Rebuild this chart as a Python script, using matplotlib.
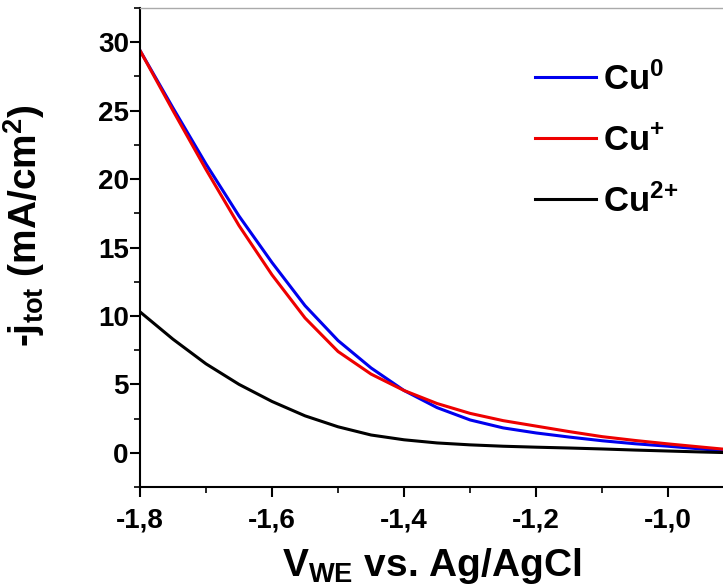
import numpy as np
import matplotlib.pyplot as plt
from matplotlib.ticker import MultipleLocator, FuncFormatter

# potential vs Ag/AgCl (V)
v_we = [-1.80, -1.75, -1.70, -1.65, -1.60, -1.55, -1.50, -1.45, -1.40,
        -1.35, -1.30, -1.25, -1.20, -1.15, -1.10, -1.05, -1.00, -0.95, -0.917]
# -j_tot (mA/cm2)
j_cu0 = [29.4, 25.2, 21.1, 17.3, 13.9, 10.75, 8.2, 6.2, 4.55,
         3.3, 2.4, 1.82, 1.45, 1.15, 0.88, 0.66, 0.48, 0.28, 0.15]
j_cu1 = [29.4, 25.0, 20.7, 16.6, 13.0, 9.85, 7.4, 5.75, 4.55,
         3.6, 2.88, 2.35, 1.95, 1.55, 1.18, 0.9, 0.65, 0.42, 0.27]
j_cu2 = [10.3, 8.3, 6.5, 5.0, 3.75, 2.7, 1.9, 1.3, 0.95,
         0.72, 0.58, 0.48, 0.41, 0.35, 0.28, 0.2, 0.13, 0.06, 0.02]

plt.rcParams['font.family'] = ['Liberation Sans', 'DejaVu Sans']
plt.rcParams['font.weight'] = 'bold'
plt.rcParams['mathtext.fontset'] = 'custom'
plt.rcParams['mathtext.rm'] = 'Liberation Sans:bold'
plt.rcParams['mathtext.bf'] = 'Liberation Sans:bold'
plt.rcParams['mathtext.it'] = 'Liberation Sans:bold'

fig = plt.figure(figsize=(7.23, 5.85), dpi=100)
ax = fig.add_axes([0.1936, 0.1675, 0.8064, 0.8188])

ax.plot(v_we, j_cu0, color='#0000ee', lw=2.2, label=r'Cu$^{0}$')
ax.plot(v_we, j_cu1, color='#ee0000', lw=2.2, label=r'Cu$^{+}$')
ax.plot(v_we, j_cu2, color='black', lw=2.2, label=r'Cu$^{2{+}}$')

ax.set_xlim(-1.8, -0.917)
ax.set_ylim(-2.5, 32.5)
ax.xaxis.set_major_locator(MultipleLocator(0.2))
ax.xaxis.set_minor_locator(MultipleLocator(0.1))
ax.yaxis.set_major_locator(MultipleLocator(5))
ax.yaxis.set_minor_locator(MultipleLocator(2.5))
ax.xaxis.set_major_formatter(FuncFormatter(lambda x, p: ('%.1f' % x).replace('.', ',')))

ax.tick_params(which='major', direction='out', length=7, width=1.5, labelsize=20)
ax.tick_params(axis='x', which='major', pad=8)
ax.tick_params(axis='y', which='major', pad=1)
ax.tick_params(which='minor', direction='out', length=4, width=1.2)
for lab in ax.get_xticklabels() + ax.get_yticklabels():
    lab.set_fontweight('bold')

ax.spines['left'].set_linewidth(1.5)
ax.spines['bottom'].set_linewidth(1.5)
ax.spines['top'].set_color('#aaaaaa')
ax.spines['top'].set_linewidth(1.0)
ax.spines['right'].set_visible(False)

ax.set_xlabel(r'V$_{WE}$ vs. Ag/AgCl', fontsize=28, fontweight='bold', labelpad=9)
ax.set_ylabel(r'-j$_{tot}$ (mA/cm$^{2}$)', fontsize=28, fontweight='bold')
ax.yaxis.set_label_coords(-0.16, 0.545)

leg = ax.legend(loc='upper right', frameon=False, fontsize=25, handlelength=1.75,
                handletextpad=0.2, labelspacing=0.78, borderaxespad=0,
                bbox_to_anchor=(0.947, 0.916))
for t in leg.get_texts():
    t.set_fontweight('bold')

fig.savefig('out.png', dpi=100)
